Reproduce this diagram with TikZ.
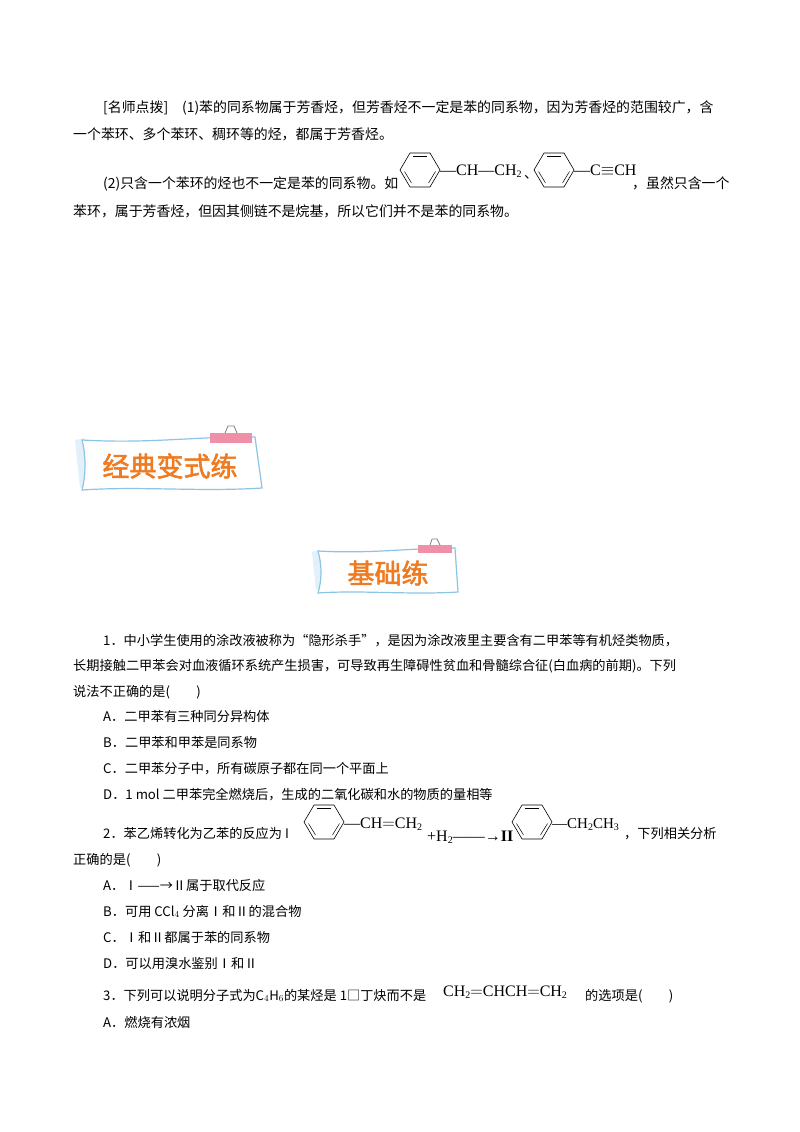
\documentclass[tikz,border=0pt]{standalone}
\usepackage{fontspec}
\setmainfont{Liberation Serif}
\newfontfamily\cjk{Noto Sans CJK SC}
\newfontfamily\cjkb{Noto Sans CJK SC}[FakeBold=2]
\definecolor{banblue}{HTML}{8CC4E6}
\definecolor{banorange}{HTML}{EE7A22}
\definecolor{clippink}{HTML}{F08FA8}
\newcommand{\benz}[2]{%
 \draw[line width=0.6pt] (#1-20,#2) -- (#1-10,#2-17) -- (#1+10,#2-17) -- (#1+20,#2) -- (#1+10,#2+17) -- (#1-10,#2+17) -- cycle;
 \draw[line width=0.5pt] (#1-7,#2-13.5) -- (#1+7,#2-13.5);
 \draw[line width=0.5pt] (#1+15.5,#2+1.5) -- (#1+8.5,#2+13);
 \draw[line width=0.5pt] (#1-15.5,#2+1.5) -- (#1-8.5,#2+13);}
\newcommand{\sbs}[1]{{\fontsize{10}{10}\selectfont\raisebox{-2pt}{#1}}}
\tikzset{
 t/.style={anchor=base west,inner sep=0pt,font=\fontsize{13.9}{14}\cjk},
 tq/.style={anchor=base west,inner sep=0pt,font=\fontsize{13.2}{14}\cjk},
 chem/.style={anchor=base west,inner sep=0pt,font=\fontsize{16}{16}\selectfont},
 bantxt/.style={font=\fontsize{27}{27}\cjkb,text=banorange}
}
\begin{document}
\begin{tikzpicture}[x=1pt,y=-1pt]
\useasboundingbox[fill=white] (0,0) rectangle (800,1132);
% top paragraph
\node[t] (l1) at (103,112) {[名师点拨]　(1)苯的同系物属于芳香烃，但芳香烃不一定是苯的同系物，因为芳香烃的范围较广，含};
\node[t] (l2) at (73,139) {一个苯环、多个苯环、稠环等的烃，都属于芳香烃。};
\node[t] (l3) at (103,188) {(2)只含一个苯环的烃也不一定是苯的同系物。如};
\benz{420}{170}
\node[chem] (c1) at (440,175) {—CH—CH\sbs{2}};
\node[t] (dun) at (524,178) {、};
\benz{554}{170}
\node[chem] (c2) at (574,175) {—C$\equiv$CH};
\node[t] (l3b) at (632,188) {，虽然只含一个};
\node[t] (l4) at (73,216) {苯环，属于芳香烃，但因其侧链不是烷基，所以它们并不是苯的同系物。};
% banner 1
\fill[banblue!25] (75,440) -- (85,438) -- (88,485) -- (80,488) -- cycle;
\draw[banblue,line width=1.2pt,fill=white] (82,440) .. controls (150,444) and (200,436) .. (255,437) -- (262,488) .. controls (200,492) and (140,486) .. (82,490) .. controls (86,475) and (86,455) .. (82,440) -- cycle;
\fill[clippink] (210,433) rectangle (252,443);
\draw[gray,line width=0.8pt] (225,433) -- (228,426) -- (234,426) -- (237,433);
\node[bantxt] (b1) at (170,466) {经典变式练};
% banner 2
\fill[banblue!25] (312,552) -- (320,550) -- (322,588) -- (316,590) -- cycle;
\draw[banblue,line width=1.2pt,fill=white] (318,551) .. controls (370,554) and (410,548) .. (455,548) -- (458,592) .. controls (410,595) and (360,590) .. (318,593) .. controls (322,580) and (322,565) .. (318,551) -- cycle;
\fill[clippink] (418,545) rectangle (452,553);
\draw[gray,line width=0.8pt] (430,545) -- (432,539) -- (437,539) -- (440,545);
\node[bantxt] (b2) at (388,573) {基础练};
% question 1
\node[tq] (q1a) at (103,645) {1．中小学生使用的涂改液被称为“隐形杀手”，是因为涂改液里主要含有二甲苯等有机烃类物质，};
\node[tq] (q1b) at (73,670) {长期接触二甲苯会对血液循环系统产生损害，可导致再生障碍性贫血和骨髓综合征(白血病的前期)。下列};
\node[tq] (q1c) at (73,696) {说法不正确的是(　　)};
\node[tq] (q1A) at (103,721) {A．二甲苯有三种同分异构体};
\node[tq] (q1B) at (103,747) {B．二甲苯和甲苯是同系物};
\node[tq] (q1C) at (103,773) {C．二甲苯分子中，所有碳原子都在同一个平面上};
\node[tq] (q1D) at (103,799) {D．1 mol 二甲苯完全燃烧后，生成的二氧化碳和水的物质的量相等};
% question 2
\node[tq] (q2a) at (103,838) {2．苯乙烯转化为乙苯的反应为 I};
\benz{324}{822}
\node[chem] (c3) at (344,828) {—CH$=$CH\sbs{2}};
\node[chem] (c4) at (427,841) {+H\sbs{2}——→\textbf{II}};
\benz{532}{822}
\node[chem,font=\fontsize{15}{15}\selectfont] (c5) at (552,828) {—CH\sbs{2}CH\sbs{3}};
\node[tq] (q2b) at (624,838) {，下列相关分析};
\node[tq] (q2c) at (73,864) {正确的是(　　)};
\node[tq] (q2A) at (103,890) {A．Ⅰ——→Ⅱ属于取代反应};
\node[tq] (q2B) at (103,916) {B．可用 CCl$_4$ 分离Ⅰ和Ⅱ的混合物};
\node[tq] (q2C) at (103,942) {C．Ⅰ和Ⅱ都属于苯的同系物};
\node[tq] (q2D) at (103,968) {D．可以用溴水鉴别Ⅰ和Ⅱ};
% question 3
\node[tq] (q3a) at (103,1000) {3．下列可以说明分子式为C$_4$H$_6$的某烃是 1□丁炔而不是};
\node[chem] (c6) at (443,996) {CH\sbs{2}$=$CHCH$=$CH\sbs{2}};
\node[tq] (q3b) at (585,1000) {的选项是(　　)};
\node[tq] (q3A) at (103,1027) {A．燃烧有浓烟};
\end{tikzpicture}
\end{document}
